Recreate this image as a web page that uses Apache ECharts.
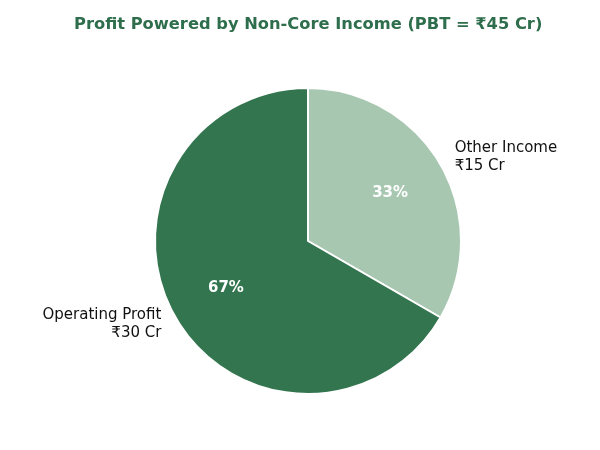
<!DOCTYPE html>
<html>
<head>
<meta charset="utf-8">
<script src="https://cdn.jsdelivr.net/npm/echarts@6/dist/echarts.min.js"></script>
<style>
  html, body { margin: 0; padding: 0; background: #fff; }
  #chart { width: 600px; height: 450px; }
</style>
</head>
<body>
<div id="chart"></div>
<script>
// slice data (Rs crore), first slice starts at 12 o'clock, clockwise
var names = ['Other Income', 'Operating Profit'];
var values = [15, 30];
var colors = ['#a7c7b1', '#33754f'];

var total = values.reduce(function(a, b) { return a + b; }, 0);
var cx = 308, cy = 241, R = 153;

var chart = echarts.init(document.getElementById('chart'), null, { renderer: 'canvas' });

var data = names.map(function(n, i) {
	return { name: n, value: values[i], itemStyle: { color: colors[i] } };
});

chart.setOption({
	animation: false,
	backgroundColor: '#fff',
	textStyle: { fontFamily: 'DejaVu Sans' },
	title: {
		text: 'Profit Powered by Non-Core Income (PBT = ₹45 Cr)',
		left: 69,
		top: 12,
		textStyle: { color: '#2e6e4c', fontSize: 16.3, fontWeight: 'bold', fontFamily: 'DejaVu Sans' }
	},
	series: [{
		// wedges + outside name labels
		type: 'pie',
		center: [cx, cy],
		radius: [0, R],
		startAngle: 90,
		clockwise: true,
		avoidLabelOverlap: false,
		itemStyle: { borderColor: '#fff', borderWidth: 2 },
		label: {
			show: true,
			position: 'outside',
			color: '#111',
			fontSize: 15,
			lineHeight: 18,
			fontFamily: 'DejaVu Sans',
			formatter: function(p) { return p.name + '\n₹' + p.value + ' Cr'; }
		},
		labelLine: { show: false, length: 14, length2: -3 },
		emphasis: { disabled: true },
		data: data
	}, {
		// transparent ring, only used to place the % labels at 0.6 R
		type: 'pie',
		center: [cx, cy],
		radius: [R * 0.2, R],
		startAngle: 90,
		clockwise: true,
		silent: true,
		itemStyle: { color: 'rgba(0,0,0,0)', borderWidth: 0 },
		label: {
			show: true,
			position: 'inside',
			color: '#fff',
			fontSize: 15,
			fontWeight: 'bold',
			fontFamily: 'DejaVu Sans',
			formatter: function(p) { return Math.round(p.value / total * 100) + '%'; }
		},
		labelLine: { show: false },
		emphasis: { disabled: true },
		data: data.map(function(d) { return { name: d.name, value: d.value }; })
	}]
});
</script>
</body>
</html>
